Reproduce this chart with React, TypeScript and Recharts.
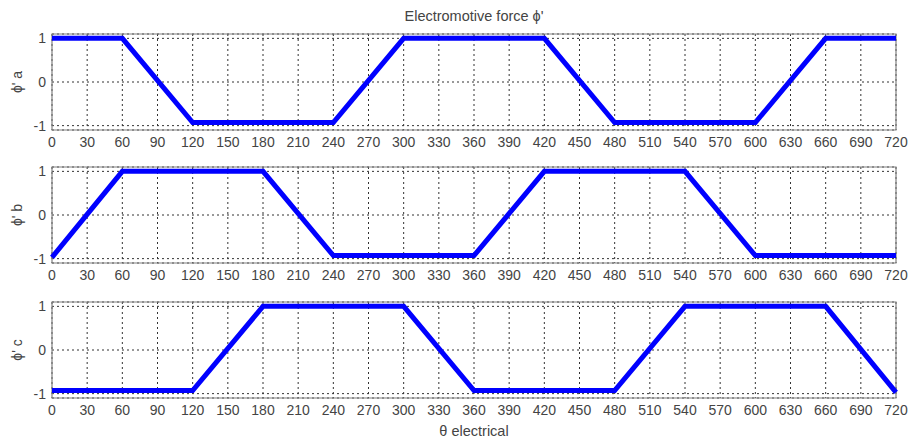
import React from "react";
import { LineChart, Line, XAxis, YAxis, CartesianGrid, ReferenceArea } from "recharts";

const xTicks = [0, 30, 60, 90, 120, 150, 180, 210, 240, 270, 300, 330, 360, 390, 420, 450, 480, 510, 540, 570, 600, 630, 660, 690, 720];
const yTicks = [-1, 0, 1];

const thetaA = [0, 60, 120, 240, 300, 420, 480, 600, 660, 720];
const phiA = [1, 1, -0.93, -0.93, 1, 1, -0.93, -0.93, 1, 1];

const thetaB = [0, 60, 180, 240, 360, 420, 540, 600, 720];
const phiB = [-0.97, 1, 1, -0.93, -0.93, 1, 1, -0.93, -0.93];

const thetaC = [0, 120, 180, 300, 360, 480, 540, 660, 720];
const phiC = [-0.93, -0.93, 1, 1, -0.93, -0.93, 1, 1, -0.97];

const titleText = "Electromotive force \u03d5'";
const xLabel = "\u03b8 electrical";
const panelLabels = ["\u03d5' a", "\u03d5' b", "\u03d5' c"];

const FONT = "'Liberation Sans', Arial, sans-serif";
const TEXT = "#444";

const panels = [
  { theta: thetaA, phi: phiA, top: 34, label: panelLabels[0] },
  { theta: thetaB, phi: phiB, top: 167, label: panelLabels[1] },
  { theta: thetaC, phi: phiC, top: 302, label: panelLabels[2] },
];

function Panel({ theta, phi, top, label }: { theta: number[]; phi: number[]; top: number; label: string }) {
  const data = theta.map((t, i) => ({ t, v: phi[i] }));
  const mTop = 5;
  return (
    <div style={{ position: "absolute", left: 0, top: top - mTop }}>
      <LineChart width={910} height={126} data={data} margin={{ top: mTop, right: 14, left: 0, bottom: 0 }}>
        <CartesianGrid stroke="#333" strokeDasharray="2 3" strokeWidth={1} />
        <XAxis
          dataKey="t"
          type="number"
          domain={[0, 720]}
          ticks={xTicks}
          interval={0}
          axisLine={false}
          tickLine={false}
          tickSize={0}
          tickMargin={7}
          height={25}
          tick={{ fill: TEXT, fontSize: 14, fontFamily: FONT }}
        />
        <YAxis
          type="number"
          domain={[-1.1, 1.1]}
          ticks={yTicks}
          interval={0}
          axisLine={false}
          tickLine={false}
          tickSize={0}
          tickMargin={6}
          width={52}
          tick={{ fill: TEXT, fontSize: 14, fontFamily: FONT }}
        />
        <ReferenceArea x1={0} x2={720} y1={-1.1} y2={1.1} fill="none" stroke="#808080" strokeWidth={1.2} />
        <Line type="linear" dataKey="v" stroke="#0000ff" strokeWidth={5} dot={false} isAnimationActive={false} />
      </LineChart>
      <div
        style={{
          position: "absolute",
          left: 17,
          top: mTop + 48,
          transform: "translate(-50%, -50%) rotate(-90deg)",
          fontFamily: FONT,
          fontSize: 14,
          color: TEXT,
          whiteSpace: "nowrap",
        }}
      >
        {label}
      </div>
    </div>
  );
}

export default function App() {
  return (
    <div style={{ position: "fixed", left: 0, top: 0, width: 910, height: 438, background: "#fff", overflow: "hidden" }}>
      <div
        style={{
          position: "absolute",
          left: 474,
          top: 16,
          transform: "translate(-50%, -50%)",
          fontFamily: FONT,
          fontSize: 14.5,
          color: TEXT,
          whiteSpace: "nowrap",
        }}
      >
        {titleText}
      </div>
      {panels.map((p, i) => (
        <Panel key={i} theta={p.theta} phi={p.phi} top={p.top} label={p.label} />
      ))}
      <div
        style={{
          position: "absolute",
          left: 474,
          top: 431,
          transform: "translate(-50%, -50%)",
          fontFamily: FONT,
          fontSize: 14.5,
          color: TEXT,
          whiteSpace: "nowrap",
        }}
      >
        {xLabel}
      </div>
    </div>
  );
}
